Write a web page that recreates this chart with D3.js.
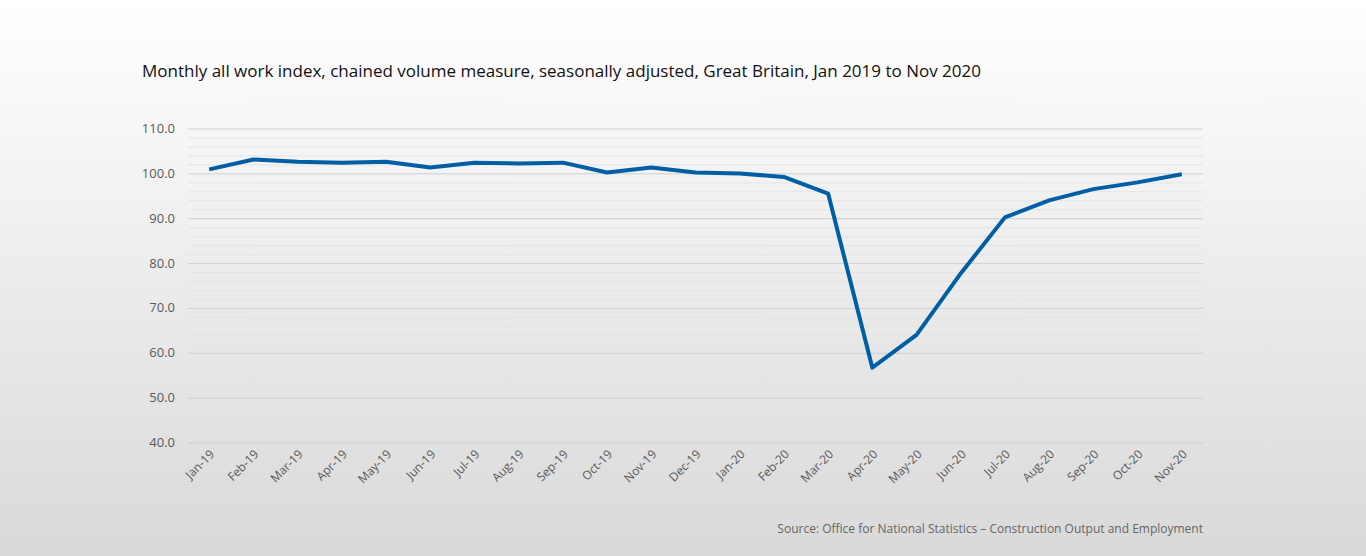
<!DOCTYPE html>
<html><head><meta charset="utf-8">
<script src="https://cdn.jsdelivr.net/npm/d3@7"></script>
<style>
body{margin:0;}
svg{display:block;font-family:"Open Sans",sans-serif;}
</style></head>
<body>
<svg id="chart" width="1366" height="556"></svg>
<script>
const months = ["Jan-19","Feb-19","Mar-19","Apr-19","May-19","Jun-19","Jul-19","Aug-19","Sep-19","Oct-19","Nov-19","Dec-19",
  "Jan-20","Feb-20","Mar-20","Apr-20","May-20","Jun-20","Jul-20","Aug-20","Sep-20","Oct-20","Nov-20"];
const index = [101.0,103.2,102.7,102.5,102.7,101.4,102.5,102.3,102.5,100.3,101.4,100.3,
  100.1,99.3,95.6,56.8,64.1,77.8,90.3,94.1,96.6,98.1,99.9];
const majorTicks = [40,50,60,70,80,90,100,110];
const minorTicks = d3.range(40,111,2);

const svg = d3.select("#chart");
const defs = svg.append("defs");
const grad = defs.append("linearGradient").attr("id","bg").attr("x1",0).attr("y1",0).attr("x2",0).attr("y2",1);
grad.append("stop").attr("offset","0%").attr("stop-color","#ffffff");
grad.append("stop").attr("offset","100%").attr("stop-color","#d9d9d9");
svg.append("rect").attr("width",1366).attr("height",556).attr("fill","url(#bg)");

const plotL = 188, plotR = 1203, plotT = 129, plotB = 443;
const x = d3.scalePoint().domain(months).range([plotL, plotR]).padding(0.48);
const y = d3.scaleLinear().domain([40,110]).range([plotB, plotT]);

svg.append("g").selectAll("line").data(minorTicks).join("line")
  .attr("x1",plotL).attr("x2",plotR).attr("y1",d=>y(d)).attr("y2",d=>y(d))
  .attr("stroke", d => d % 10 === 0 ? "#cfcfcf" : "#e4e4e4").attr("stroke-width",1);

svg.append("g").selectAll("text").data(majorTicks).join("text")
  .attr("x",175).attr("y",d=>y(d)+4).attr("text-anchor","end")
  .attr("font-size",13).attr("fill","#595959").text(d=>d.toFixed(1));

svg.append("g").selectAll("text").data(months).join("text")
  .attr("transform",d=>`translate(${x(d)+6},${plotB+12}) rotate(-45)`)
  .attr("text-anchor","end").attr("font-size",12).attr("fill","#595959").text(d=>d);

svg.append("path").datum(index)
  .attr("fill","none").attr("stroke","#005ea5").attr("stroke-width",4).attr("stroke-linejoin","round")
  .attr("d", d3.line().x((d,i)=>x(months[i])).y(d=>y(d)));

svg.append("text").attr("x",142).attr("y",77).attr("font-size",17).attr("fill","#111")
  .text("Monthly all work index, chained volume measure, seasonally adjusted, Great Britain, Jan 2019 to Nov 2020");
svg.append("text").attr("x",1203).attr("y",533).attr("text-anchor","end").attr("font-size",12).attr("fill","#666")
  .text("Source: Office for National Statistics \u2013 Construction Output and Employment");
</script>
</body></html>
